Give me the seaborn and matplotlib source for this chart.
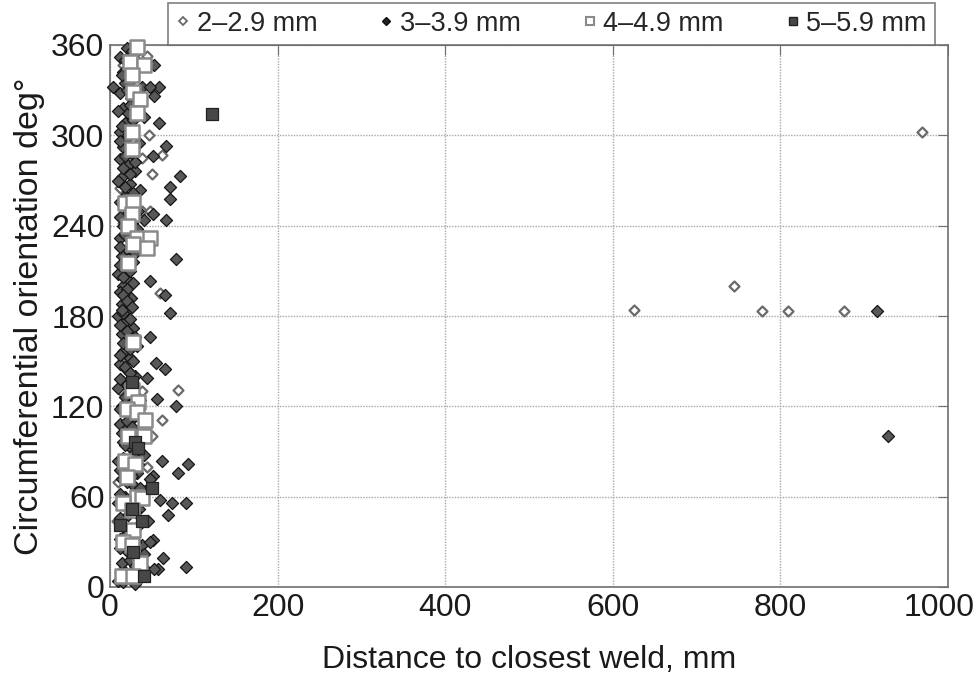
import numpy as np
import pandas as pd
import matplotlib
matplotlib.use("Agg")
import matplotlib.pyplot as plt
import matplotlib.transforms as mtransforms
from matplotlib.lines import Line2D
import seaborn as sns

# distance to closest weld (mm), circumferential orientation (deg)
d2_x = [44, 16, 46, 62, 38, 12, 38, 16, 60, 20, 16, 16, 12, 81, 38, 62, 50, 48,
        10, 44, 30, 8, 50, 12,
        625, 745, 778, 809, 876, 969]
d2_y = [353, 347, 300, 287, 285, 265, 250, 242, 195, 189, 157, 149, 131, 131, 130, 111, 274, 250,
        70, 80, 20, 44, 100, 10,
        184, 200, 183, 183, 183, 302]

# dense band near the weld (two passes) + scattered outliers
d3_x = [20, 30, 12, 35, 22, 15, 28, 18, 38, 12, 25, 33, 15, 22, 40, 18, 28, 12, 20, 35,
        15, 25, 12, 22, 30, 14, 24, 36, 18, 12, 30, 20, 40, 15, 25, 12, 35, 20, 14, 28,
        18, 10, 22, 15, 12, 25, 14, 20, 10, 18, 28, 14, 22, 32, 16, 24, 12, 20, 30, 16,
        10, 24, 36, 14, 22, 28, 12, 18, 34, 15, 25, 40, 10, 22, 32, 14, 28, 42, 18, 10,
        35, 22, 45, 15, 28, 12, 38, 20, 30, 14, 42, 22, 10, 30,
        26, 18, 30, 14, 24, 20, 32, 24, 10, 28, 14, 22, 12, 28, 18, 30, 16, 24, 10, 18,
        28, 22, 16, 34, 12, 26, 32, 18, 26, 12, 30, 22, 12, 24, 16, 28, 20, 16, 20, 26,
        16, 24, 12, 20, 30, 16, 24, 12, 28, 18, 24, 12, 20, 28, 18, 26, 12, 30, 20, 26,
        14, 24, 18, 30, 16, 34, 12, 26, 20, 36, 12, 28, 18, 30, 12, 36, 22, 18, 30, 12,
        40, 24, 30, 18, 36, 16,
        53, 4, 59, 48, 52, 58, 67, 51, 84, 72, 72, 67, 79, 66, 72, 48, 55, 66, 44, 56,
        79, 62, 93, 81, 51, 91, 69, 51, 63, 91, 57, 52, 51, 48, 14, 48, 74, 60, 48,
        915, 928]
d3_y = [358, 355, 352, 348, 345, 342, 338, 335, 332, 328, 325, 322, 318, 315, 312, 308, 305, 302, 298, 295,
        292, 288, 284, 280, 276, 272, 268, 264, 260, 256, 252, 248, 244, 240, 236, 232, 228, 224, 220, 216,
        212, 208, 204, 200, 196, 192, 188, 184, 180, 176, 172, 168, 164, 160, 156, 152, 148, 144, 140, 136,
        132, 128, 124, 120, 116, 112, 108, 104, 100, 96, 92, 88, 84, 80, 76, 72, 68, 64, 60, 56,
        52, 48, 44, 40, 36, 32, 28, 24, 20, 16, 12, 8, 4, 2,
        356, 350, 346, 340, 336, 330, 326, 320, 316, 310, 306, 300, 296, 290, 286, 282, 278, 274, 270, 266,
        262, 258, 254, 250, 246, 242, 238, 234, 230, 226, 222, 218, 214, 210, 206, 202, 198, 194, 190, 186,
        182, 178, 174, 170, 166, 162, 158, 154, 150, 146, 142, 138, 134, 130, 126, 122, 118, 114, 110, 106,
        102, 98, 94, 90, 86, 82, 78, 74, 70, 66, 62, 58, 54, 50, 46, 42, 38, 34, 30, 26,
        22, 18, 14, 10, 6, 3,
        347, 332, 332, 332, 326, 308, 293, 286, 273, 266, 258, 244, 218, 194, 182, 166, 149, 145, 139, 125,
        120, 84, 82, 76, 74, 56, 48, 31, 19, 13, 12, 12, 248, 203, 184, 72, 56, 58, 30,
        183, 100]

d4_x = [32, 24, 40, 26, 28, 36, 32, 26, 26,
        18, 28, 26, 22, 32, 48, 28, 44, 22,
        28, 26, 34, 20, 32, 42, 22, 40,
        18, 30, 20, 32, 38, 16, 26, 28, 16, 26, 36, 14, 28]
d4_y = [359, 349, 347, 340, 329, 324, 315, 302, 291,
        255, 256, 248, 240, 232, 232, 228, 225, 215,
        163, 131, 123, 118, 116, 111, 100, 100,
        84, 82, 73, 60, 59, 56, 51, 38, 30, 28, 16, 7, 7]

d5_x = [122, 26, 30, 33, 50, 26, 38, 12, 28, 40]
d5_y = [314, 136, 96, 92, 66, 52, 44, 41, 23, 7]

labels = ["2\u20132.9 mm", "3\u20133.9 mm", "4\u20134.9 mm", "5\u20135.9 mm"]

sns.set_style("white")
plt.rcParams["font.family"] = ["Liberation Sans", "DejaVu Sans"]

fig = plt.figure(figsize=(9.79, 6.83), dpi=100)
ax = fig.add_axes([110 / 979, 96 / 683, 838 / 979, 542 / 683])

styles = [
    dict(marker="D", s=26, color="white", edgecolor="#6a6a6a", linewidth=1.6),
    dict(marker="D", s=38, color="#585858", edgecolor="#151515", linewidth=0.9),
    dict(marker="s", s=90, color="white", edgecolor="#8a8a8a", linewidth=1.8),
    dict(marker="s", s=65, color="#474747", edgecolor="#222222", linewidth=0.9),
]
series = [(d2_x, d2_y), (d3_x, d3_y), (d4_x, d4_y), (d5_x, d5_y)]
for (xs, ys), st in zip(series, styles):
    sns.scatterplot(x=xs, y=ys, ax=ax, zorder=3, clip_on=False, **st)

ax.set_xlim(0, 1000)
ax.set_ylim(0, 360)
ax.set_xticks(range(0, 1001, 200))
ax.set_yticks(range(0, 361, 60))
ax.grid(True, color="#a8a8a8", linestyle=(0, (1, 1)), linewidth=1.0)
ax.set_axisbelow(True)
for sp in ax.spines.values():
    sp.set_color("#707070")
    sp.set_linewidth(1.2)
ax.tick_params(axis="both", direction="in", length=7, color="#707070",
               labelsize=23, labelcolor="#1a1a1a", right=True, top=True, pad=4)
ax.set_xlabel("Distance to closest weld, mm", fontsize=23, color="#1a1a1a", labelpad=16)
ax.set_ylabel("Circumferential orientation deg\u00b0", fontsize=24.5, color="#1a1a1a", labelpad=4)

# keep the last x tick label inside the canvas, as in the reference
fig.canvas.draw()
last = ax.get_xticklabels()[-1]
last.set_transform(last.get_transform() + mtransforms.ScaledTranslation(-9 / 100, 0, fig.dpi_scale_trans))

handles = [
    Line2D([], [], linestyle="none", marker="D", markersize=4.5, markerfacecolor="white",
           markeredgecolor="#6a6a6a", markeredgewidth=1.3),
    Line2D([], [], linestyle="none", marker="D", markersize=4.5, markerfacecolor="#222222",
           markeredgecolor="#111111"),
    Line2D([], [], linestyle="none", marker="s", markersize=6, markerfacecolor="white",
           markeredgecolor="#8a8a8a", markeredgewidth=1.5),
    Line2D([], [], linestyle="none", marker="s", markersize=6, markerfacecolor="#474747",
           markeredgecolor="#222222"),
]
leg = fig.legend(handles, labels, ncol=4, loc="upper center", bbox_to_anchor=(0.5633, 0.996),
                 borderaxespad=0, frameon=True, fancybox=False, handlelength=0.5, handletextpad=0.25,
                 columnspacing=2.3, borderpad=0.3, prop={"size": 19.5})
leg.get_frame().set_edgecolor("#606060")
leg.get_frame().set_linewidth(1.2)

fig.savefig("out.png", dpi=100, facecolor="white")
